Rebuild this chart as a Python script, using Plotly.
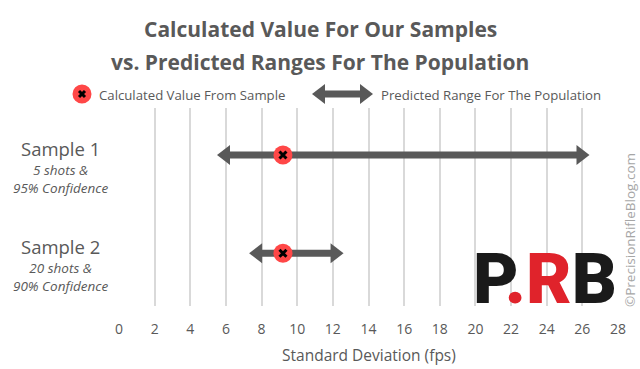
import plotly.graph_objects as go

# ---- data ----
samples = ["Sample 1", "Sample 2"]
sample_notes = ["5 shots &<br>95% Confidence", "20 shots &<br>90% Confidence"]
sample_pos = [1, 0]
calc_sd = [9.2, 9.2]
range_low = [5.5, 7.3]
range_high = [26.4, 12.6]
x_ticks = list(range(0, 30, 2))
x_range = [0, 28]

# ---- style ----
W, H = 640, 369
ML, MR, MT, MB = 119, 22, 108, 63
TXT = "#595959"
ARROW = "#595959"
RED = "#FF4747"
FONT = "Open Sans"
HEAD_L, HEAD_H = 13, 10  # arrow head length / half-height in px

def px(x):
    return (x - ML) / (W - ML - MR)

def py(y):
    return (H - MB - y) / (H - MT - MB)

px_per_unit = (W - ML - MR) / (x_range[1] - x_range[0])
inset = 6 / px_per_unit

fig = go.Figure()

# markers
fig.add_trace(go.Scatter(x=calc_sd, y=sample_pos, mode="markers",
                         marker=dict(symbol="circle", size=19, color=RED),
                         showlegend=False, hoverinfo="skip"))
fig.add_trace(go.Scatter(x=calc_sd, y=sample_pos, mode="markers",
                         marker=dict(symbol="x-thin", size=7, color="black",
                                     line=dict(width=3, color="black")),
                         showlegend=False, hoverinfo="skip"))

shapes = []
# range arrows (between gridlines and traces)
for lo, hi, yp in zip(range_low, range_high, sample_pos):
    shapes.append(dict(type="line", xref="x", yref="y", layer="between",
                       x0=lo + inset, x1=hi - inset, y0=yp, y1=yp,
                       line=dict(width=7, color=ARROW)))
    shapes.append(dict(type="path", xref="x", yref="y", layer="between",
                       xsizemode="pixel", ysizemode="pixel", xanchor=lo, yanchor=yp,
                       path=f"M0,0 L{HEAD_L},{HEAD_H} L{HEAD_L},{-HEAD_H} Z",
                       fillcolor=ARROW, line=dict(width=0)))
    shapes.append(dict(type="path", xref="x", yref="y", layer="between",
                       xsizemode="pixel", ysizemode="pixel", xanchor=hi, yanchor=yp,
                       path=f"M0,0 L{-HEAD_L},{HEAD_H} L{-HEAD_L},{-HEAD_H} Z",
                       fillcolor=ARROW, line=dict(width=0)))

# legend marker
shapes += [
    dict(type="circle", xref="paper", yref="paper", xsizemode="pixel", ysizemode="pixel",
         xanchor=px(82), yanchor=py(94), x0=-9.5, x1=9.5, y0=-9.5, y1=9.5,
         fillcolor=RED, line=dict(width=0)),
    dict(type="line", xref="paper", yref="paper", xsizemode="pixel", ysizemode="pixel",
         xanchor=px(82), yanchor=py(94), x0=-3, x1=3, y0=-3, y1=3,
         line=dict(width=3, color="black")),
    dict(type="line", xref="paper", yref="paper", xsizemode="pixel", ysizemode="pixel",
         xanchor=px(82), yanchor=py(94), x0=-3, x1=3, y0=3, y1=-3,
         line=dict(width=3, color="black")),
]
# legend double arrow
shapes += [
    dict(type="line", xref="paper", yref="paper", x0=px(312 + 6), x1=px(373 - 6),
         y0=py(94), y1=py(94), line=dict(width=7, color=ARROW)),
    dict(type="path", xref="paper", yref="paper", xsizemode="pixel", ysizemode="pixel",
         xanchor=px(312), yanchor=py(94),
         path=f"M0,0 L{HEAD_L},{HEAD_H} L{HEAD_L},{-HEAD_H} Z",
         fillcolor=ARROW, line=dict(width=0)),
    dict(type="path", xref="paper", yref="paper", xsizemode="pixel", ysizemode="pixel",
         xanchor=px(373), yanchor=py(94),
         path=f"M0,0 L{-HEAD_L},{HEAD_H} L{-HEAD_L},{-HEAD_H} Z",
         fillcolor=ARROW, line=dict(width=0)),
]

annotations = []
# sample labels
for name, note, yp in zip(samples, sample_notes, sample_pos):
    annotations.append(dict(x=px(60), y=yp, xref="paper", yref="y", text=name,
                            showarrow=False, yshift=6.5, xanchor="center", yanchor="middle",
                            font=dict(family=FONT, size=18.5, color=TXT)))
    annotations.append(dict(x=px(60), y=yp, xref="paper", yref="y", text="<i>" + note + "</i>",
                            showarrow=False, yshift=-24, xanchor="center", yanchor="middle",
                            font=dict(family=FONT, size=13.5, color=TXT)))

# title
annotations.append(dict(x=px(320), y=py(29), xref="paper", yref="paper",
                        text="<b>Calculated Value For Our Samples</b>", showarrow=False,
                        xanchor="center", yanchor="middle",
                        font=dict(family=FONT, size=21, color=TXT)))
annotations.append(dict(x=px(320), y=py(61.5), xref="paper", yref="paper",
                        text="<b>vs. Predicted Ranges For The Population</b>", showarrow=False,
                        xanchor="center", yanchor="middle",
                        font=dict(family=FONT, size=21, color=TXT)))

# legend text
annotations.append(dict(x=px(97), y=py(95), xref="paper", yref="paper",
                        text="Calculated Value From Sample", showarrow=False,
                        xanchor="left", yanchor="middle",
                        font=dict(family=FONT, size=13.2, color=TXT)))
annotations.append(dict(x=px(379), y=py(95), xref="paper", yref="paper",
                        text="Predicted Range For The Population", showarrow=False,
                        xanchor="left", yanchor="middle",
                        font=dict(family=FONT, size=13.2, color=TXT)))

# axis title
annotations.append(dict(x=0.5, y=py(355), xref="paper", yref="paper",
                        text="Standard Deviation (fps)", showarrow=False,
                        xanchor="center", yanchor="middle",
                        font=dict(family=FONT, size=15.5, color=TXT)))

# watermark
annotations.append(dict(x=px(630), y=py(230), xref="paper", yref="paper",
                        text="©PrecisionRifleBlog.com", showarrow=False, textangle=-90,
                        xanchor="center", yanchor="middle",
                        font=dict(family=FONT, size=13.5, color="#a6a6a6")))

# logo
annotations.append(dict(x=px(545), y=py(279), xref="paper", yref="paper",
                        text="<span style='color:#1a1a1a'>P</span><span style='color:#e0232b'>.R</span><span style='color:#1a1a1a'>B</span>",
                        showarrow=False, xanchor="center", yanchor="middle",
                        font=dict(family="Roboto", size=70, weight=900, color="#1a1a1a")))

fig.update_layout(
    width=W, height=H,
    margin=dict(l=ML, r=MR, t=MT, b=MB, pad=0),
    paper_bgcolor="white", plot_bgcolor="white",
    showlegend=False,
    annotations=annotations,
    shapes=shapes,
    xaxis=dict(range=x_range, tickvals=x_ticks, ticktext=[str(t) for t in x_ticks],
               showgrid=True, gridcolor="#d9d9d9", gridwidth=1.5, zeroline=False,
               showline=False, ticks="outside", ticklen=10, tickcolor="rgba(0,0,0,0)",
               tickfont=dict(family=FONT, size=14, color=TXT), fixedrange=True),
    yaxis=dict(range=[-0.536, 1.478], showgrid=False, zeroline=False, showline=False,
               showticklabels=False, fixedrange=True),
)

fig.write_html("out.html", config={"displayModeBar": False},
               post_script="document.body.style.margin='0';document.body.style.padding='0';")
